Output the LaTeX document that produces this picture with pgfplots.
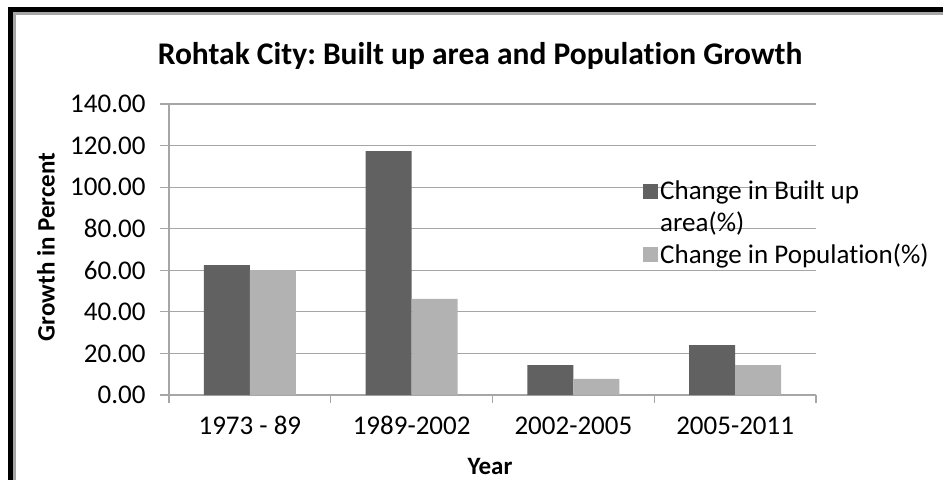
\documentclass[border=0pt]{standalone}
\usepackage{pgfplots}
\pgfplotsset{compat=1.18}
\usepackage{fontspec}
\setmainfont{Carlito}[Ligatures={NoCommon}]
\definecolor{darkbar}{HTML}{616161}
\definecolor{lightbar}{HTML}{B2B2B2}
\definecolor{gridc}{HTML}{A6A6A6}
\frenchspacing
\begin{document}
\begin{tikzpicture}[x=1pt,y=1pt]
\path[use as bounding box] (0,0) rectangle (943,480);
\fill[gridc] (13,0) rectangle (16,468);
\fill[gridc] (13,465) rectangle (943,468);
\fill[black] (8,0) rectangle (13,473);
\fill[black] (8,468) rectangle (943,473);
\begin{axis}[
  at={(169pt,85pt)}, anchor=south west, scale only axis,
  width=647pt, height=291pt,
  ybar=0pt, bar width=46pt,
  xmin=0.5, xmax=4.5, ymin=0, ymax=140,
  ytick={0,20,...,140},
  xtick={1,2,3,4},
  xticklabels={1973 - 89,1989-2002,2002-2005,2005-2011},
  minor xtick={0.5,1.5,2.5,3.5,4.5},
  axis x line*=bottom, axis y line*=left,
  axis line style={gridc, line width=1.2pt},
  ymajorgrids, major grid style={gridc, line width=1.2pt},
  tick align=outside,
  major tick length=9pt, minor tick length=8pt,
  tick style={gridc, line width=1.2pt},
  major x tick style={draw=none},
  /pgf/number format/assume math mode=true,
  yticklabel={\pgfmathprintnumber[fixed,fixed zerofill,precision=2]{\tick}},
  tick label style={font=\fontsize{27}{32}\selectfont, text=black},
  yticklabel style={xshift=-11pt},
  xticklabel style={text height=18pt, text depth=0pt, yshift=-9pt},
  legend style={at={(0.728,0.75)}, anchor=north west, draw=none, fill=none,
    font=\fontsize{27}{31.5}\selectfont, nodes={align=left}, row sep=7pt},
  legend cell align=left,
]
\addplot[fill=darkbar, draw=none,
  legend image code/.code={\fill[darkbar] (0pt,8pt) rectangle (15pt,23pt);}]
  coordinates {(1,62.5) (2,117.3) (3,14.4) (4,24.0)};
\addplot[fill=lightbar, draw=none,
  legend image code/.code={\fill[lightbar] (0pt,-7.5pt) rectangle (15pt,7.5pt);}]
  coordinates {(1,60.1) (2,46.2) (3,7.7) (4,14.4)};
\legend{Change in Built up\\area(\%),Change in Population(\%)}
\end{axis}
\node[font=\fontsize{31.5}{36}\selectfont\bfseries] at (480,424) {Rohtak City: Built up area and Population Growth};
\node[font=\fontsize{25}{30}\selectfont\bfseries] at (490,14) {Year};
\node[rotate=90, font=\fontsize{25}{30}\selectfont\bfseries] at (46,233) {Growth in Percent};
\end{tikzpicture}
\end{document}
